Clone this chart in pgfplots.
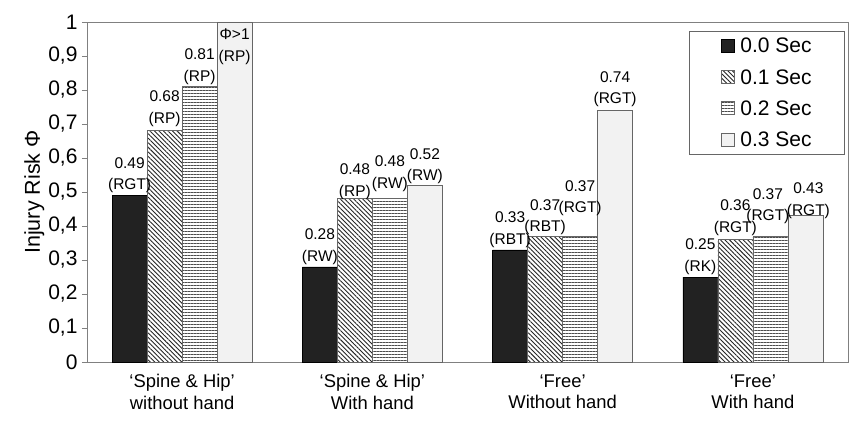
\documentclass[border=0pt]{standalone}
\usepackage{pgfplots}
\pgfplotsset{compat=1.18}
\usepackage{pgfplotstable}
\usetikzlibrary{patterns.meta}
\usepackage{fontspec}
\setmainfont{Liberation Sans}
\definecolor{darkbar}{HTML}{222222}
\definecolor{lightbar}{HTML}{F2F2F2}
\definecolor{edgegray}{HTML}{666666}
\definecolor{axgray}{HTML}{808080}

\pgfplotstableread{
x y lab dy dx
0 0.49 {0.49\\(RGT)} 0 0
1 0.28 {0.28\\(RW)} 0 0
2 0.33 {0.33\\(RBT)} 0 0
3 0.25 {0.25\\(RK)} 0 0
}\tA
\pgfplotstableread{
x y lab dy dx
0 0.68 {0.68\\(RP)} 2 0
1 0.48 {0.48\\(RP)} -3 0
2 0.37 {0.37\\(RBT)} -1 0
3 0.36 {0.36\\(RGT)} 2 0
}\tB
\pgfplotstableread{
x y lab dy dx
0 0.81 {0.81\\(RP)} 0 0
1 0.48 {0.48\\(RW)} 5 0
2 0.37 {0.37\\(RGT)} 18 0
3 0.37 {0.37\\(RGT)} 10 -2.5
}\tC
\pgfplotstableread{
x y lab dy dx
0 1.00 {} 0 0
1 0.52 {0.52\\(RW)} -1 0
2 0.74 {0.74\\(RGT)} 1 0
3 0.43 {0.43\\(RGT)} -5 3
}\tD

\begin{document}
\begin{tikzpicture}
\begin{axis}[
  scale only axis,
  width=761pt, height=340pt,
  ybar=0pt, bar width=35pt,
  xmin=-0.5, xmax=3.5,
  ymin=0, ymax=1,
  axis line style={axgray, line width=0.8pt},
  xtick={0,1,2,3},
  xticklabels={{‘Spine \& Hip’\\without hand},{‘Spine \& Hip’\\With hand},{‘Free’\\Without hand},{‘Free’\\With hand}},
  xticklabel style={align=center, font=\fontsize{18.4}{21.5}\selectfont, text=black, yshift=-4pt},
  major x tick style={draw=none},
  extra x ticks={-0.5,0.5,1.5,2.5,3.5},
  extra x tick labels={},
  extra x tick style={major tick length=5pt, tick style={axgray, line width=0.8pt}, tick align=outside, grid=none},
  ytick={0,0.1,...,1.0},
  yticklabel style={font=\fontsize{21}{24}\selectfont, xshift=-1pt, /pgf/number format/use comma, /pgf/number format/fixed, /pgf/number format/precision=1, /pgf/number format/assume math mode=true},
  ytick style={axgray, line width=0.8pt},
  tick align=outside,
  major tick length=5pt,
  xtick pos=bottom, ytick pos=left,
  ylabel={Injury Risk Φ},
  ylabel style={font=\fontsize{21.5}{24}\selectfont},
  ylabel shift=-3pt,
  point meta=explicit symbolic,
  nodes near coords,
  visualization depends on={\thisrow{dy} \as \labdy},
  visualization depends on={\thisrow{dx} \as \labdx},
  every node near coord/.append style={align=center, font=\fontsize{15.5}{21.5}\selectfont, text=black, inner sep=2pt, yshift=\labdy pt, xshift=\labdx pt},
  clip=false,
  legend style={at={(rel axis cs:0.996,0.974)}, anchor=north east, draw=edgegray, line width=0.8pt,
     font=\fontsize{21}{24}\selectfont, inner xsep=31pt, inner ysep=5pt, row sep=11pt,
     /tikz/every odd column/.append style={column sep=4pt}},
  legend cell align=left,
  legend image code/.code={\draw[#1, line width=0.6pt] (0pt,-6pt) rectangle (13pt,7pt);},
]
\addplot[fill=darkbar, draw=black, line width=0.6pt] table[x=x, y=y, meta=lab] {\tA};
\addplot[draw=edgegray, line width=0.6pt, fill=white, postaction={pattern={Lines[angle=-45,distance=3.2pt,line width=0.9pt]}, pattern color=black!85}] table[x=x, y=y, meta=lab] {\tB};
\addplot[draw=edgegray, line width=0.6pt, fill=white, postaction={pattern={Lines[angle=0,distance=3pt,line width=0.8pt]}, pattern color=black!70}] table[x=x, y=y, meta=lab] {\tC};
\addplot[fill=lightbar, draw=edgegray, line width=0.6pt] table[x=x, y=y, meta=lab] {\tD};
\legend{0.0 Sec, 0.1 Sec, 0.2 Sec, 0.3 Sec}
\node[anchor=north, align=center, font=\fontsize{15.5}{21.5}\selectfont, inner sep=2pt, xshift=52.5pt, yshift=-5pt] at (axis cs:0,1) {Φ>1\\(RP)};
\coordinate (bl) at (rel axis cs:0,0);
\coordinate (tr) at (rel axis cs:1,1);
\end{axis}
\pgfresetboundingbox
\path ([shift={(-87pt,-58pt)}]bl) rectangle ([shift={(13pt,22pt)}]tr);
\end{tikzpicture}
\end{document}
